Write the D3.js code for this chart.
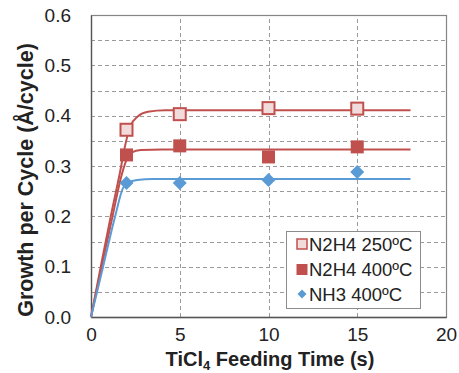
<!DOCTYPE html>
<html>
<head>
<meta charset="utf-8">
<script src="https://cdn.jsdelivr.net/npm/d3@7"></script>
<style>
  html, body { margin: 0; padding: 0; background: #fff; }
  svg { display: block; font-family: "Liberation Sans", Arial, sans-serif; }
</style>
</head>
<body>
<svg id="chart" width="459" height="373"></svg>
<script>
// Measured growth per cycle vs. TiCl4 feeding time
const feedTimes = [2, 5, 10, 15];
const gpcN2H4_250 = [0.372, 0.403, 0.415, 0.414];
const gpcN2H4_400 = [0.322, 0.340, 0.318, 0.338];
const gpcNH3_400  = [0.266, 0.266, 0.272, 0.288];

// Saturation fit curves (time, GPC)
const fitN2H4_250 = [[0,0],[0.55,0.1],[1.1,0.198],[1.62,0.285],[1.95,0.345],[2.2,0.378],[2.65,0.399],[3.2,0.408],[4.2,0.411],[18,0.411]];
const fitN2H4_400 = [[0,0],[0.6,0.1],[1.2,0.198],[1.75,0.285],[2.0,0.312],[2.3,0.327],[2.8,0.332],[4,0.333],[18,0.333]];
const fitNH3_400  = [[0,0],[0.68,0.1],[1.36,0.2],[1.8,0.256],[2.1,0.267],[2.6,0.272],[3.5,0.274],[18,0.274]];

const xTicks = [0, 5, 10, 15, 20];
const yTicks = [0.0, 0.1, 0.2, 0.3, 0.4, 0.5, 0.6];
const yGrid  = [0.05, 0.1, 0.15, 0.2, 0.25, 0.3, 0.35, 0.4, 0.45, 0.5, 0.55];
const xGrid  = [5, 10, 15];

const seriesNames = ["N2H4 250ºC", "N2H4 400ºC", "NH3 400ºC"];

const RED = "#c0504d", PINK = "#f2dcdb", BLUE = "#5b9bd5";

const svg = d3.select("#chart");
const m = { left: 91, right: 13, top: 15, bottom: 56 };
const W = 459, H = 373;

const x = d3.scaleLinear().domain([0, 20]).range([m.left, W - m.right]);
const y = d3.scaleLinear().domain([0, 0.6]).range([H - m.bottom, m.top]);

// gridlines
const grid = svg.append("g").attr("stroke", "#9a9a9a").attr("stroke-width", 1)
  .attr("stroke-dasharray", "4,3");
grid.selectAll("line.h").data(yGrid).join("line").attr("class", "h")
  .attr("x1", x(0)).attr("x2", x(20))
  .attr("y1", d => Math.round(y(d)) + 0.5).attr("y2", d => Math.round(y(d)) + 0.5);
grid.selectAll("line.v").data(xGrid).join("line").attr("class", "v")
  .attr("y1", y(0)).attr("y2", y(0.6))
  .attr("x1", d => Math.round(x(d)) + 0.5).attr("x2", d => Math.round(x(d)) + 0.5);

// plot frame
svg.append("rect")
  .attr("x", x(0) + 0.5).attr("y", y(0.6) + 0.5)
  .attr("width", x(20) - x(0)).attr("height", y(0) - y(0.6))
  .attr("fill", "none").attr("stroke", "#858585").attr("stroke-width", 1.2);

// axes
const xAxis = svg.append("g").attr("transform", `translate(0,${y(0)})`)
  .call(d3.axisBottom(x).tickValues(xTicks).tickSize(0).tickPadding(11).tickFormat(d3.format("d")));
const yAxis = svg.append("g").attr("transform", `translate(${x(0)},0)`)
  .call(d3.axisLeft(y).tickValues(yTicks).tickSize(0).tickPadding(20).tickFormat(d3.format(".1f")));
[xAxis, yAxis].forEach(a => {
  a.select(".domain").attr("stroke", "#555").attr("stroke-width", 1.3);
  a.selectAll("text").attr("font-size", 19).attr("fill", "#222")
    .attr("font-family", "'Liberation Sans', Arial, sans-serif");
});

// axis titles
const xt = svg.append("text").attr("x", 270).attr("y", 366).attr("text-anchor", "middle")
  .attr("font-size", 20).attr("font-weight", "bold").attr("fill", "#222");
xt.append("tspan").text("TiCl");
xt.append("tspan").attr("font-size", 13).attr("dy", 4).text("4");
xt.append("tspan").attr("dy", -4).text(" Feeding Time (s)");

svg.append("text").attr("transform", "translate(33,180) rotate(-90)")
  .attr("text-anchor", "middle").attr("font-size", 21.5).attr("font-weight", "bold")
  .attr("fill", "#222").text("Growth per Cycle (Å/cycle)");

// fit curves
const line = d3.line().x(d => x(d[0])).y(d => y(d[1])).curve(d3.curveMonotoneX);
[[fitN2H4_250, RED], [fitN2H4_400, RED], [fitNH3_400, BLUE]].forEach(([pts, c]) => {
  svg.append("path").datum(pts).attr("d", line)
    .attr("fill", "none").attr("stroke", c).attr("stroke-width", 2);
});

// markers
const sq = 12;
svg.append("g").selectAll("rect").data(feedTimes.map((t, i) => [t, gpcN2H4_250[i]])).join("rect")
  .attr("x", d => x(d[0]) - sq / 2).attr("y", d => y(d[1]) - sq / 2)
  .attr("width", sq).attr("height", sq)
  .attr("fill", PINK).attr("stroke", RED).attr("stroke-width", 2);
svg.append("g").selectAll("rect").data(feedTimes.map((t, i) => [t, gpcN2H4_400[i]])).join("rect")
  .attr("x", d => x(d[0]) - 6.5).attr("y", d => y(d[1]) - 6.5)
  .attr("width", 13).attr("height", 13).attr("fill", RED);
svg.append("g").selectAll("path").data(feedTimes.map((t, i) => [t, gpcNH3_400[i]])).join("path")
  .attr("transform", d => `translate(${x(d[0])},${y(d[1])}) rotate(45)`)
  .attr("d", d3.symbol().type(d3.symbolSquare).size(98)).attr("fill", BLUE);

// legend
const lg = svg.append("g").attr("transform", "translate(286,231)");
lg.append("rect").attr("x", 0.5).attr("y", 0.5).attr("width", 134).attr("height", 77)
  .attr("fill", "#fff").attr("stroke", "#8c8c8c").attr("stroke-width", 1);
const rowY = [13, 38.5, 63];
lg.append("rect").attr("x", 11).attr("y", rowY[0] - 5).attr("width", 10).attr("height", 10)
  .attr("fill", PINK).attr("stroke", RED).attr("stroke-width", 1.5);
lg.append("rect").attr("x", 10.5).attr("y", rowY[1] - 5.5).attr("width", 11).attr("height", 11)
  .attr("fill", RED);
lg.append("path").attr("transform", `translate(16,${rowY[2]}) rotate(45)`)
  .attr("d", d3.symbol().type(d3.symbolSquare).size(40)).attr("fill", BLUE);
lg.selectAll("text.lab").data(seriesNames).join("text").attr("class", "lab")
  .attr("x", 23).attr("y", (d, i) => rowY[i]).attr("dy", "0.36em")
  .attr("font-size", 18.5).attr("fill", "#222").text(d => d);
</script>
</body>
</html>
